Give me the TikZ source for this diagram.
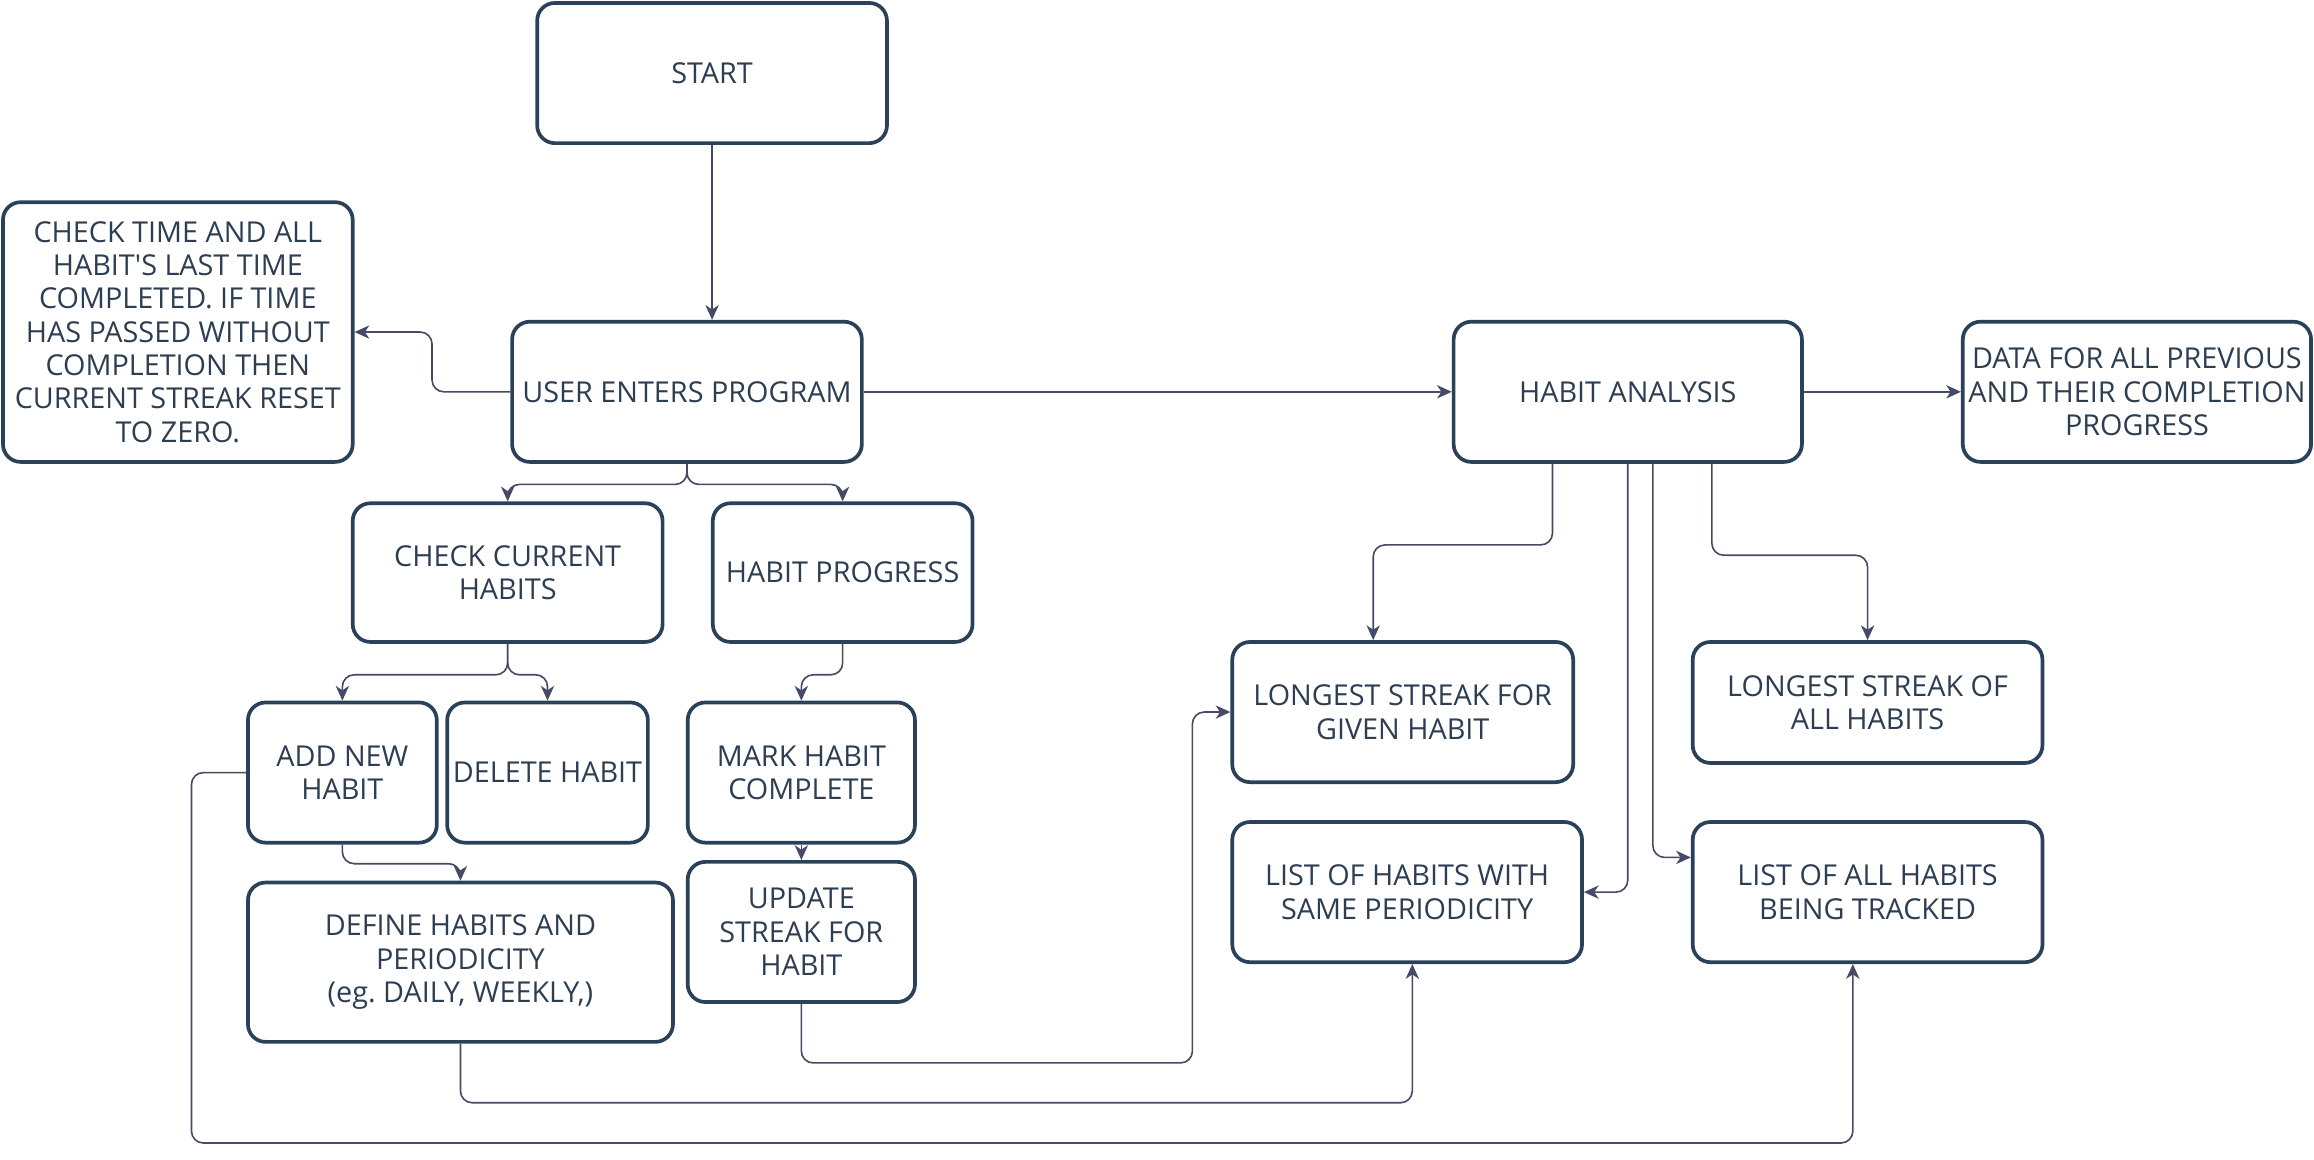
\documentclass[tikz,border=0pt]{standalone}
\usepackage{fontspec}
\setmainfont{Open Sans}[Ligatures=TeXOff]
\usetikzlibrary{arrows.meta}
\definecolor{boxline}{HTML}{2B4159}
\definecolor{boxtext}{HTML}{2D3E52}
\definecolor{wire}{HTML}{474A66}
\frenchspacing
\begin{document}
\begin{tikzpicture}[x=1pt,y=-1pt,
  box/.style 2 args={draw=boxline,line width=2.5pt,rounded corners=12pt,align=center,text=boxtext,
    font=\fontsize{19.5}{22.6}\selectfont,inner sep=1pt,minimum width=#1,minimum height=#2},
  wire/.style={draw=wire,line width=1.1pt,rounded corners=8pt,-{Stealth[length=10pt,width=9pt,inset=3pt]}}]
\useasboundingbox (0,0) rectangle (1568,786);
\node[box={237pt}{95pt}] (start) at (482.5,49.5) {START};
\node[box={237pt}{176pt}] (reset) at (120.5,225) {CHECK TIME AND ALL\\HABIT'S LAST TIME\\COMPLETED. IF TIME\\HAS PASSED WITHOUT\\COMPLETION THEN\\CURRENT STREAK RESET\\TO ZERO.};
\node[box={237pt}{95pt}] (user) at (465.5,265.5) {USER ENTERS PROGRAM};
\node[box={236pt}{95pt}] (ana) at (1103,265.5) {HABIT ANALYSIS};
\node[box={236pt}{95pt}] (data) at (1448,265.5) {DATA FOR ALL PREVIOUS\\AND THEIR COMPLETION\\PROGRESS};
\node[box={210pt}{94pt}] (cur) at (344,388) {CHECK CURRENT\\HABITS};
\node[box={176pt}{94pt}] (prog) at (571,388) {HABIT PROGRESS};
\node[box={128pt}{95pt}] (add) at (232,523.5) {ADD NEW\\HABIT};
\node[box={136pt}{95pt}] (del) at (371,523.5) {DELETE HABIT};
\node[box={154pt}{95pt}] (mark) at (543,523.5) {MARK HABIT\\COMPLETE};
\node[box={154pt}{95pt}] (upd) at (543,631.5) {UPDATE\\STREAK FOR\\HABIT};
\node[box={288pt}{108pt}] (def) at (312,652) {DEFINE HABITS AND\\PERIODICITY\\(eg. DAILY, WEEKLY,)};
\node[box={231pt}{95pt}] (given) at (950.5,482.5) {LONGEST STREAK FOR\\GIVEN HABIT};
\node[box={237pt}{82pt}] (allong) at (1265.5,476) {LONGEST STREAK OF\\ALL HABITS};
\node[box={237pt}{95pt}] (same) at (953.5,604.5) {LIST OF HABITS WITH\\SAME PERIODICITY};
\node[box={237pt}{95pt}] (track) at (1265.5,604.5) {LIST OF ALL HABITS\\BEING TRACKED};
\draw[wire] (start.south) -- (start.south |- user.north);
\draw[wire] (user.west) -- ++(-53,0) |- (reset.east);
\draw[wire] (user) -- (ana);
\draw[wire] (ana) -- (data);
\draw[wire] (user.south) -- ++(0,14) -| (cur.north);
\draw[wire] (user.south) -- ++(0,14) -| (prog.north);
\draw[wire] (cur.south) -- ++(0,21) -| (add.north);
\draw[wire] (cur.south) -- ++(0,21) -| (del.north);
\draw[wire] (prog.south) -- ++(0,21) -| (mark.north);
\draw[wire] (mark) -- (upd);
\draw[wire] (add.south) -- ++(0,13) -| (def.north);
\draw[wire] (add.west) -| ++(-37,251) -| ([xshift=-10pt]track.south);
\draw[wire] (def.south) -- ++(0,40) -| ([xshift=3.5pt]same.south);
\draw[wire] (upd.south) |- ++(265,40) |- (given.west);
\draw[wire] ([xshift=-51pt]ana.south) -- ++(0,55) -| ([xshift=-20pt]given.north);
\draw[wire] ([xshift=57pt]ana.south) -- ++(0,62) -| (allong.north);
\draw[wire] (ana.south) |- (same.east);
\draw[wire] ([xshift=17pt]ana.south) |- ([yshift=23.5pt]track.west);
\end{tikzpicture}
\end{document}
